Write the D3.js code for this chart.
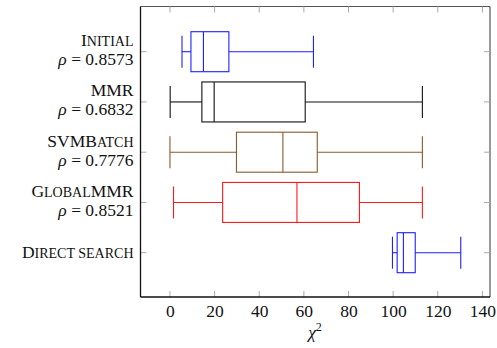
<!DOCTYPE html>
<html>
<head>
<meta charset="utf-8">
<script src="https://cdn.jsdelivr.net/npm/d3@7"></script>
<style>
  html, body { margin: 0; padding: 0; background: #fff; }
  svg text, svg tspan { font-family: "Liberation Serif", "Times New Roman", serif !important; fill: #111; }
</style>
</head>
<body>
<svg id="chart" width="497" height="348"></svg>
<script>
// ---- data ----
const categories = ["Initial", "MMR", "SVMBatch", "GlobalMMR", "Direct search"];
const rhoValues = ["0.8573", "0.6832", "0.7776", "0.8521", null];
const lowerWhisker = [5.4, 0.1, 0.0, 1.6, 99.7];
const q1Values     = [9.4, 14.3, 29.8, 23.6, 101.8];
const medianValues = [15.0, 19.8, 50.6, 56.9, 104.6];
const q3Values     = [26.4, 60.6, 66.0, 84.9, 109.9];
const upperWhisker = [64.3, 113.1, 113.1, 113.1, 130.3];
const boxColors = ["#1f1fff", "#111111", "#8b5a2b", "#ff1a1a", "#1f1fff"];
const xTicks = [0, 20, 40, 60, 80, 100, 120, 140];
// small-caps label parts: [text, isFullSize]
const labelParts = [
  [["I", true], ["NITIAL", false]],
  [["MMR", true]],
  [["SVMB", true], ["ATCH", false]],
  [["G", true], ["LOBAL", false], ["MMR", true]],
  [["D", true], ["IRECT SEARCH", false]]
];

// ---- layout ----
const svg = d3.select("#chart");
const pLeft = 140.5, pRight = 490, pTop = 6.5, pBottom = 297;
const fs = 17.5;
const serif = '"Liberation Serif", "Times New Roman", serif';

const x = d3.scaleLinear().domain([-13.2, 143.4]).range([pLeft, pRight]);
const y = d3.scalePoint().domain(categories).range([51.7, 252.7]);

const g = svg.append("g");

// frame
g.append("line").attr("x1", pLeft).attr("x2", pRight).attr("y1", pTop).attr("y2", pTop).attr("stroke", "#555").attr("stroke-width", 1.2);
g.append("line").attr("x1", pRight).attr("x2", pRight).attr("y1", pTop).attr("y2", pBottom).attr("stroke", "#555").attr("stroke-width", 1.2);

// ticks (inside, gray)
xTicks.forEach(t => {
  const xx = x(t);
  g.append("line").attr("x1", xx).attr("x2", xx).attr("y1", pTop).attr("y2", pTop + 6).attr("stroke", "#aaa").attr("stroke-width", 1);
  g.append("line").attr("x1", xx).attr("x2", xx).attr("y1", pBottom).attr("y2", pBottom - 6).attr("stroke", "#aaa").attr("stroke-width", 1);
});
categories.forEach(c => {
  const yy = y(c);
  g.append("line").attr("x1", pLeft).attr("x2", pLeft + 6).attr("y1", yy).attr("y2", yy).attr("stroke", "#aaa").attr("stroke-width", 1);
  g.append("line").attr("x1", pRight).attr("x2", pRight - 6).attr("y1", yy).attr("y2", yy).attr("stroke", "#aaa").attr("stroke-width", 1);
});

// x axis labels via d3 axis
const xAxis = d3.axisBottom(x).tickValues(xTicks).tickSize(0).tickPadding(0).tickFormat(d3.format("d"));
const ax = svg.append("g").attr("transform", `translate(0,${pBottom})`).call(xAxis)
  .attr("font-family", serif).attr("font-size", fs);
ax.select(".domain").remove();
ax.selectAll("text").attr("y", 19.5).attr("dy", null).attr("fill", "#111");

// left and bottom axis lines (black)
g.append("line").attr("x1", pLeft).attr("x2", pRight).attr("y1", pBottom).attr("y2", pBottom).attr("stroke", "#111").attr("stroke-width", 1.3);
g.append("line").attr("x1", pLeft).attr("x2", pLeft).attr("y1", pTop).attr("y2", pBottom).attr("stroke", "#111").attr("stroke-width", 1.3);

// boxplots
const boxH = 20, capH = 16;
categories.forEach((c, i) => {
  const yy = y(c);
  const col = boxColors[i];
  const bg = svg.append("g").attr("stroke", col).attr("stroke-width", 1.1).attr("fill", "none");
  bg.append("line").attr("x1", x(lowerWhisker[i])).attr("x2", x(q1Values[i])).attr("y1", yy).attr("y2", yy);
  bg.append("line").attr("x1", x(q3Values[i])).attr("x2", x(upperWhisker[i])).attr("y1", yy).attr("y2", yy);
  bg.append("line").attr("x1", x(lowerWhisker[i])).attr("x2", x(lowerWhisker[i])).attr("y1", yy - capH).attr("y2", yy + capH);
  bg.append("line").attr("x1", x(upperWhisker[i])).attr("x2", x(upperWhisker[i])).attr("y1", yy - capH).attr("y2", yy + capH);
  bg.append("rect").attr("x", x(q1Values[i])).attr("y", yy - boxH)
    .attr("width", x(q3Values[i]) - x(q1Values[i])).attr("height", 2 * boxH);
  bg.append("line").attr("x1", x(medianValues[i])).attr("x2", x(medianValues[i])).attr("y1", yy - boxH).attr("y2", yy + boxH);
});

// category labels
const labelX = 133.5;
categories.forEach((c, i) => {
  const yy = y(c);
  const hasRho = rhoValues[i] !== null;
  const t = svg.append("text").attr("x", labelX).attr("y", hasRho ? yy - 5.5 : yy + 5.5)
    .attr("text-anchor", "end").attr("font-family", serif).style("font-size", fs + "px");
  labelParts[i].forEach(([txt, full]) => {
    t.append("tspan").style("font-size", (full ? fs : fs * 0.8) + "px").text(txt);
  });
  if (hasRho) {
    const r = svg.append("text").attr("x", labelX).attr("y", yy + 13.5)
      .attr("text-anchor", "end").attr("font-family", serif).style("font-size", fs + "px");
    r.append("tspan").style("font-style", "italic").text("ρ");
    r.append("tspan").text("\u2005=\u2005" + rhoValues[i]);
  }
});

// x label
const xl = svg.append("text").attr("x", 315).attr("y", 338).attr("text-anchor", "middle")
  .attr("font-family", serif).style("font-size", fs + "px");
xl.append("tspan").style("font-style", "italic").text("χ");
xl.append("tspan").attr("dy", -7).style("font-size", "12px").text("2");
</script>
</body>
</html>
